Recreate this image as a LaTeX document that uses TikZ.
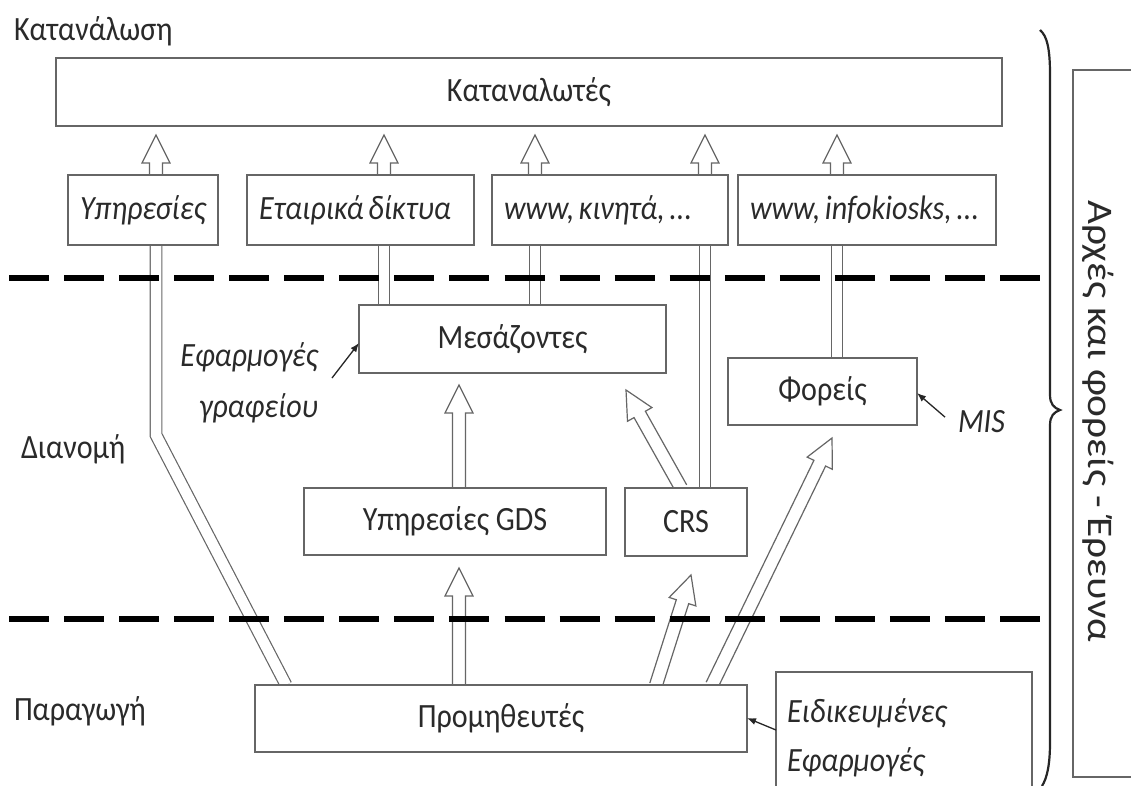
\documentclass[tikz,border=0pt]{standalone}
\usepackage{fontspec}
\setmainfont{Carlito}[FakeStretch=0.885]
\newfontfamily\sidefont{Carlito}[FakeStretch=1.15]
\usetikzlibrary{calc,arrows.meta}
\pgfdeclarelayer{background}
\pgfsetlayers{background,main}
\definecolor{edge}{HTML}{666666}
\definecolor{ink}{HTML}{2A2A2A}
\newcommand\blkarrow[3][]{%
  \coordinate (ba1) at (#2);
  \coordinate (ba2) at (#3);
  \coordinate (ba3) at ($(ba2)!28pt!(ba1)$);
  \draw[blk,#1] ($(ba1)!6.5pt!90:(ba2)$) -- ($(ba3)!6.5pt!90:(ba2)$) -- ($(ba3)!14pt!90:(ba2)$)
     -- (ba2) -- ($(ba3)!14pt!-90:(ba2)$) -- ($(ba3)!6.5pt!-90:(ba2)$) -- ($(ba1)!6.5pt!-90:(ba2)$);%
}
\tikzset{
  every node/.style={font=\fontsize{34}{46}\selectfont, text=ink, inner sep=0pt, outer sep=0pt},
  itfont/.style={font=\fontsize{34}{46}\selectfont\itshape, execute at begin node={\spaceskip=4.5pt\relax}},
  box/.style={draw=edge, line width=1.6pt, fill=white},
  lbox/.style={box, itfont, align=left, inner xsep=12pt, minimum height=70pt},
  blk/.style={draw=edge, line width=1.2pt, fill=white, line join=miter},
  dbl/.style={draw=edge, line width=1.2pt, double=white, double distance=10.5pt},
  level/.style={draw=black, line width=5.5pt, dash pattern=on 40pt off 15.06pt},
  ptr/.style={draw=black!85, line width=1.3pt, -{Latex[length=9pt,width=7pt]}},
  bracestyle/.style={draw=black!85, line width=2.2pt},
}
\begin{document}
\begin{tikzpicture}[x=1pt,y=-1pt]
\useasboundingbox (0,0) rectangle (1131,785);
\clip (0,0) rectangle (1131,785);

% boxes
\node[box, minimum width=946pt, minimum height=68pt] (cons) at (529,92) {Καταναλωτές};
\node[lbox, text width=126pt] (svc) at (143,210) {\mbox{Υπηρεσίες}};
\node[lbox, text width=203pt] (eta) at (360.5,210) {\mbox{Εταιρικά δίκτυα}};
\node[lbox, text width=212pt] (www) at (610,210) {\mbox{www, κινητά, ...}};
\node[lbox, text width=234pt] (kio) at (867,210) {\mbox{www, infokiosks, ...}};
\node[box, minimum width=307pt, minimum height=68pt] (mes) at (512.5,339) {Μεσάζοντες};
\node[box, minimum width=189pt, minimum height=67pt] (fo) at (822.5,391.5) {Φορείς};
\node[box, minimum width=302pt, minimum height=67pt] (gds) at (455,521.5) {Υπηρεσίες GDS};
\node[box, minimum width=122pt, minimum height=68pt] (crs) at (686,522) {CRS};
\node[box, minimum width=492pt, minimum height=67pt] (pro) at (501,718.5) {Προμηθευτές};
\node[box, itfont, anchor=north west, minimum width=256pt, minimum height=132pt,
      text width=234pt, align=left, inner xsep=11pt] (spe) at (776,672) {Ειδικευμένες\\[3pt]Εφαρμογές};
\node[box, anchor=north west, minimum width=120pt, minimum height=707pt] (side) at (1073,70) {};
\node[rotate=-90, font=\fontsize{36}{44}\sidefont] (sidet) at (1098,421) {Αρχές και φορείς - Έρευνα};

% labels
\node[anchor=base west] (lc) at (14,40) {Κατανάλωση};
\node[anchor=base west] (ld) at (21,458) {Διανομή};
\node[anchor=base west] (lp) at (14,720) {Παραγωγή};
\node[itfont, anchor=base west] (mis) at (958,432) {MIS};
\node[itfont, align=right, anchor=north east] (ofc) at (318,343) {Εφαρμογές\\[5pt]γραφείου};

% columns
\coordinate (colA) at (156,0);
\coordinate (colB) at (384,0);
\coordinate (colC) at (535,0);
\coordinate (colD) at (705,0);
\coordinate (colE) at (837,0);
\coordinate (colG) at (459,0);
\coordinate (bendA) at (156,435);

\begin{pgfonlayer}{background}
\fill[white] (0,0) rectangle (1131,785);
\draw[dbl] ($(pro.north west)+(31,0)$) -- (bendA) -- (colA |- svc.south);
\draw[dbl] (colB |- mes.north) -- (colB |- eta.south);
\draw[dbl] (colC |- mes.north) -- (colC |- www.south);
\draw[dbl] (colD |- crs.north) -- (colD |- www.south);
\draw[dbl] (colE |- fo.north) -- (colE |- kio.south);

\blkarrow{colA |- svc.north}{$(colA |- cons.south)+(0,9)$}
\blkarrow{colB |- eta.north}{$(colB |- cons.south)+(0,9)$}
\blkarrow{colC |- www.north}{$(colC |- cons.south)+(0,9)$}
\blkarrow{colD |- www.north}{$(colD |- cons.south)+(0,9)$}
\blkarrow{colE |- kio.north}{$(colE |- cons.south)+(0,9)$}
\blkarrow{colG |- gds.north}{$(colG |- mes.south)+(0,12)$}
\blkarrow{colG |- pro.north}{$(colG |- gds.south)+(0,13)$}
\blkarrow{$(crs.north west)+(56,0)$}{$(mes.south east)+(-40,17)$}
\blkarrow{$(pro.north west)+(401,0)$}{$(crs.south west)+(66,19)$}
\blkarrow{$(pro.north west)+(457,0)$}{$(fo.south west)+(104,13)$}

% level separators
\draw[level] (9,278) -- (1040,278);
\draw[level] (9,619) -- (1040,619);
\end{pgfonlayer}

% pointers
\draw[ptr] ($(ofc.north east)+(14,35)$) -- ($(mes.west)+(0,4)$);
\draw[ptr] ($(mis.west)+(-13,-4)$) -- ($(fo.east)+(0,1.5)$);
\draw[ptr] ($(spe.north west)+(0,58)$) -- ($(pro.east)+(0,-0.5)$);

% brace
\draw[bracestyle] (1040,30) .. controls (1047,36) and (1050,48) .. (1050,75) -- (1050,395)
  .. controls (1050,404) and (1054,408) .. (1060,410)
  .. controls (1054,412) and (1050,416) .. (1050,425) -- (1050,742)
  .. controls (1050,765) and (1047,778) .. (1042,786);
\end{tikzpicture}
\end{document}
